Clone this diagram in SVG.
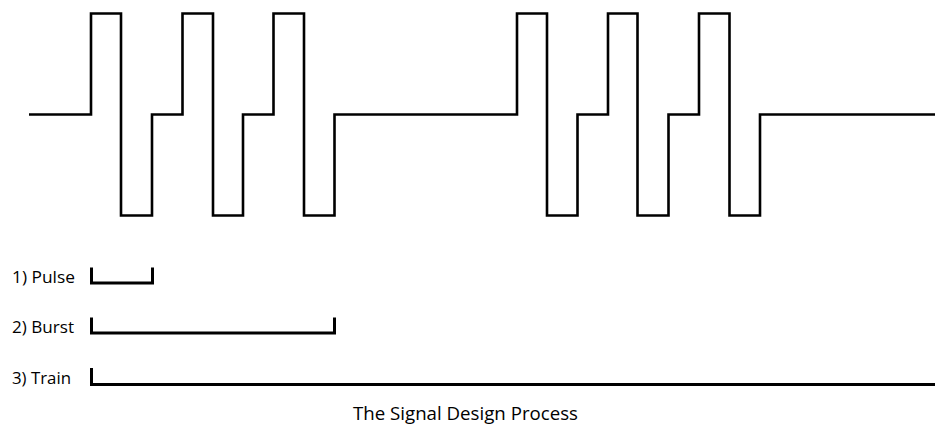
<svg xmlns="http://www.w3.org/2000/svg" width="935" height="425" viewBox="0 0 935 425">
<style>
.sig{fill:none;stroke:#000;stroke-width:2.6;stroke-linejoin:miter}
.br{fill:none;stroke:#000;stroke-width:3}
.lbl{font-family:"Open Sans","Liberation Sans",sans-serif;font-size:16.5px;fill:#000}
.cap{font-family:"Open Sans","Liberation Sans",sans-serif;font-size:18px;fill:#000}
</style>
<rect width="935" height="425" fill="#fff"/>
<g id="signal">
<path class="sig" d="M29,114.5 H91 V13.5 H121 V215.5 H152 V114.5 H182.5 V13.5 H213 V215.5 H243 V114.5 H273.5 V13.5 H304 V215.5 H334.5 V114.5 H517 V13.5 H547 V215.5 H577.5 V114.5 H608 V13.5 H637.5 V215.5 H668.5 V114.5 H699 V13.5 H729.5 V215.5 H760 V114.5 H935"/>
</g>
<g id="pulse">
<text class="lbl" x="12" y="283" textLength="63" lengthAdjust="spacingAndGlyphs">1) Pulse</text>
<path class="br" d="M91.5,267.5 V283 H152.5 V267.5"/>
</g>
<g id="burst">
<text class="lbl" x="12" y="333" textLength="62" lengthAdjust="spacingAndGlyphs">2) Burst</text>
<path class="br" d="M91.5,317.5 V333 H334.5 V317.5"/>
</g>
<g id="train">
<text class="lbl" x="12" y="384" textLength="59" lengthAdjust="spacingAndGlyphs">3) Train</text>
<path class="br" d="M91.5,368 V384.5 H935"/>
</g>
<g id="caption">
<text class="cap" x="353" y="420" textLength="225" lengthAdjust="spacingAndGlyphs">The Signal Design Process</text>
</g>
</svg>
